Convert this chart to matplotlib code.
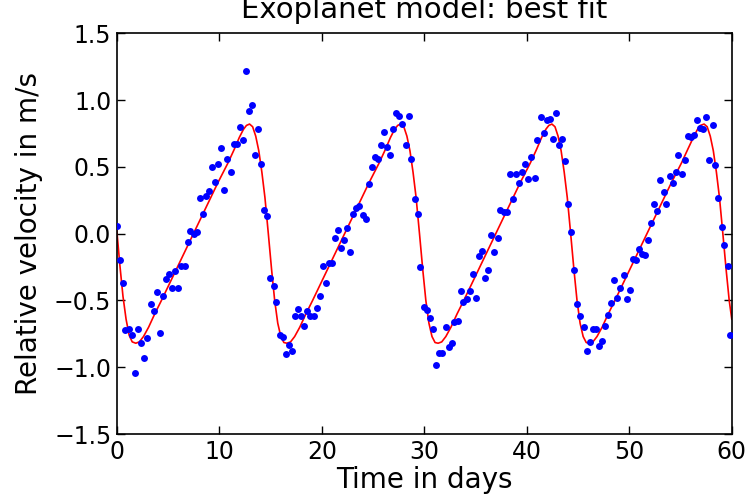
import matplotlib
matplotlib.use('Agg')
import matplotlib.pyplot as plt

days = [0.0, 0.32, 0.58, 0.84, 1.2, 1.52, 1.78, 2.11, 2.4, 2.69, 2.98, 3.31, 3.6, 3.9, 4.19,
        4.48, 4.8, 5.1, 5.39, 5.68, 6.01, 6.27, 6.63, 6.92, 7.18, 7.5, 7.83, 8.09, 8.41, 8.7,
        9.0, 9.29, 9.58, 9.87, 10.2, 10.49, 10.78, 11.11, 11.4, 11.73, 12.02, 12.31, 12.57,
        12.87, 13.19, 13.48, 13.8, 14.06, 14.39, 14.68, 14.95,
        15.3, 15.56, 15.88, 16.18, 16.47, 16.79, 17.09, 17.38, 17.67, 17.99, 18.28, 18.58,
        18.87, 19.2, 19.49, 19.78, 20.08, 20.4, 20.66, 20.99, 21.28, 21.57, 21.86, 22.15,
        22.48, 22.77, 23.06, 23.35, 23.65, 23.98, 24.27, 24.56, 24.88, 25.18, 25.47, 25.76,
        26.08, 26.37, 26.67, 26.96, 27.25, 27.55, 27.87, 28.17, 28.46, 28.75, 29.07, 29.34, 29.6,
        29.95, 30.24, 30.57, 30.86, 31.15, 31.44, 31.77, 32.07, 32.39, 32.68, 32.94, 33.27,
        33.56, 33.82, 34.17, 34.46, 34.76, 35.05, 35.38, 35.67, 35.96, 36.26, 36.55, 36.84,
        37.16, 37.43, 37.75, 38.04, 38.33, 38.66, 38.95, 39.28, 39.57, 39.86, 40.16, 40.45,
        40.77, 41.03, 41.35, 41.65, 41.94, 42.23, 42.55, 42.85, 43.14, 43.43, 43.72, 44.02, 44.28,
        44.64, 44.93, 45.22, 45.55, 45.84, 46.13, 46.42, 46.72, 47.04, 47.33, 47.66, 47.95,
        48.24, 48.54, 48.83, 49.12, 49.44, 49.74, 50.03, 50.32, 50.64, 50.91, 51.23, 51.56,
        51.81, 52.14, 52.44, 52.73, 53.02, 53.34, 53.6, 53.93, 54.22, 54.51, 54.8, 55.13,
        55.42, 55.71, 56.0, 56.33, 56.62, 56.92, 57.21, 57.5, 57.8, 58.12, 58.41, 58.7, 59.0,
        59.29, 59.61, 59.8]
velocity = [0.055, -0.20, -0.37, -0.72, -0.71, -0.76, -1.04, -0.71, -0.82, -0.93, -0.78, -0.53,
            -0.58, -0.44, -0.74, -0.47, -0.34, -0.30, -0.41, -0.28, -0.41, -0.24, -0.24, -0.065,
            0.02, 0.0, 0.01, 0.27, 0.15, 0.28, 0.32, 0.50, 0.39, 0.52, 0.64, 0.33, 0.56, 0.46,
            0.67, 0.67, 0.80, 0.70, 1.22, 0.92, 0.96, 0.59, 0.78, 0.52, 0.18, 0.135, -0.33,
            -0.39, -0.51, -0.76, -0.77, -0.90, -0.83, -0.88, -0.62, -0.565, -0.62, -0.69, -0.58,
            -0.62, -0.62, -0.56, -0.47, -0.24, -0.37, -0.22, -0.22, -0.03, 0.03, -0.11, -0.045,
            0.04, -0.14, 0.15, 0.19, 0.21, 0.14, 0.11, 0.37, 0.50, 0.57, 0.56, 0.66, 0.76, 0.65,
            0.59, 0.78, 0.90, 0.88, 0.82, 0.66, 0.88, 0.56, 0.26, 0.145, -0.25,
            -0.55, -0.57, -0.63, -0.71, -0.98, -0.89, -0.89, -0.70, -0.85, -0.82, -0.66, -0.65,
            -0.43, -0.51, -0.49, -0.43, -0.30, -0.48, -0.165, -0.13, -0.33, -0.27, -0.01, -0.135,
            -0.03, 0.18, 0.16, 0.16, 0.45, 0.26, 0.45, 0.38, 0.46, 0.52, 0.41, 0.57, 0.42, 0.70,
            0.87, 0.75, 0.85, 0.86, 0.71, 0.90, 0.66, 0.71, 0.54, 0.22, 0.01,
            -0.27, -0.53, -0.62, -0.70, -0.88, -0.81, -0.71, -0.71, -0.84, -0.80, -0.69, -0.61,
            -0.52, -0.35, -0.48, -0.41, -0.31, -0.49, -0.42, -0.19, -0.20, -0.115, -0.15, -0.16,
            -0.045, 0.08, 0.22, 0.17, 0.40, 0.31, 0.22, 0.43, 0.38, 0.465, 0.59, 0.45, 0.55,
            0.73, 0.72, 0.74, 0.85, 0.79, 0.78, 0.87, 0.55, 0.81, 0.51, 0.265, 0.05, -0.085,
            -0.24, -0.76]

# best-fit model curve
model_days = [0.0, 0.3, 0.6, 0.9, 1.2, 1.5, 1.85, 2.2, 2.6, 3.1, 3.7, 4.35, 5.85, 7.85, 9.85,
              10.85, 11.45, 11.95, 12.35, 12.65, 12.95, 13.25, 13.55, 13.85, 14.15, 14.45,
              14.78, 15.1, 15.4, 15.7, 16.0, 16.3, 16.6, 16.95, 17.35, 17.85, 18.45, 19.1, 20.6,
              22.6, 24.6, 25.6, 26.2, 26.7, 27.1, 27.4, 27.7, 28.0, 28.3, 28.6, 28.9, 29.2,
              29.53, 29.85, 30.15, 30.45, 30.75, 31.05, 31.35, 31.7, 32.1, 32.6, 33.2, 33.85,
              35.35, 37.35, 39.35, 40.35, 40.95, 41.45, 41.85, 42.15, 42.45, 42.75, 43.05,
              43.35, 43.65, 43.95, 44.28, 44.6, 44.9, 45.2, 45.5, 45.8, 46.1, 46.45, 46.85,
              47.35, 47.95, 48.6, 50.1, 52.1, 54.1, 55.1, 55.7, 56.25, 56.65, 56.95, 57.3,
              57.6, 57.9, 58.2, 58.5, 58.8, 59.13, 59.45, 59.75, 60.0]
model_velocity = [0.02, -0.24, -0.47, -0.64, -0.76, -0.81, -0.82, -0.81, -0.77, -0.70, -0.60,
                  -0.50, -0.26, 0.06, 0.38, 0.53, 0.63, 0.72, 0.78, 0.81, 0.82, 0.80, 0.73,
                  0.62, 0.46, 0.27, 0.0, -0.27, -0.50, -0.67, -0.77, -0.815, -0.82, -0.81,
                  -0.77, -0.70, -0.60, -0.50, -0.26, 0.06, 0.38, 0.53, 0.63, 0.72, 0.78, 0.81,
                  0.82, 0.80, 0.73, 0.62, 0.46, 0.27, 0.0, -0.27, -0.50, -0.67, -0.77, -0.815,
                  -0.82, -0.81, -0.77, -0.70, -0.60, -0.50, -0.26, 0.06, 0.38, 0.53, 0.63, 0.72,
                  0.78, 0.81, 0.82, 0.80, 0.73, 0.62, 0.46, 0.27, 0.0, -0.27, -0.50, -0.67,
                  -0.77, -0.815, -0.82, -0.81, -0.77, -0.70, -0.60, -0.50, -0.26, 0.06, 0.38,
                  0.53, 0.63, 0.72, 0.78, 0.81, 0.82, 0.80, 0.73, 0.62, 0.46, 0.27, 0.0, -0.27,
                  -0.50, -0.64]

xticks = [0, 10, 20, 30, 40, 50, 60]
yticks = [-1.5, -1.0, -0.5, 0.0, 0.5, 1.0, 1.5]

fig = plt.figure(figsize=(7.49, 5.03), dpi=100, facecolor='white')
ax = fig.add_axes([0.156, 0.137, 0.821, 0.797])

ax.plot(days, velocity, 'o', color='blue', markersize=5, markeredgewidth=0, zorder=3)
ax.plot(model_days, model_velocity, '-', color='red', linewidth=1.2, zorder=2)

ax.set_xlim(0, 60)
ax.set_ylim(-1.5, 1.5)
ax.set_xticks(xticks)
ax.set_yticks(yticks)
ax.tick_params(direction='in', top=True, right=True, length=6, width=1,
               labelsize=17, pad=4)
for s in ax.spines.values():
    s.set_linewidth(1.2)

# title sits high enough that its top is cut off, as in the original
ax.set_title('Exoplanet model: best fit', fontsize=21, pad=11)
ax.set_xlabel('Time in days', fontsize=20, labelpad=2)
ax.set_ylabel('Relative velocity in m/s', fontsize=20, labelpad=8)

fig.savefig('out.png', dpi=100, facecolor='white')
